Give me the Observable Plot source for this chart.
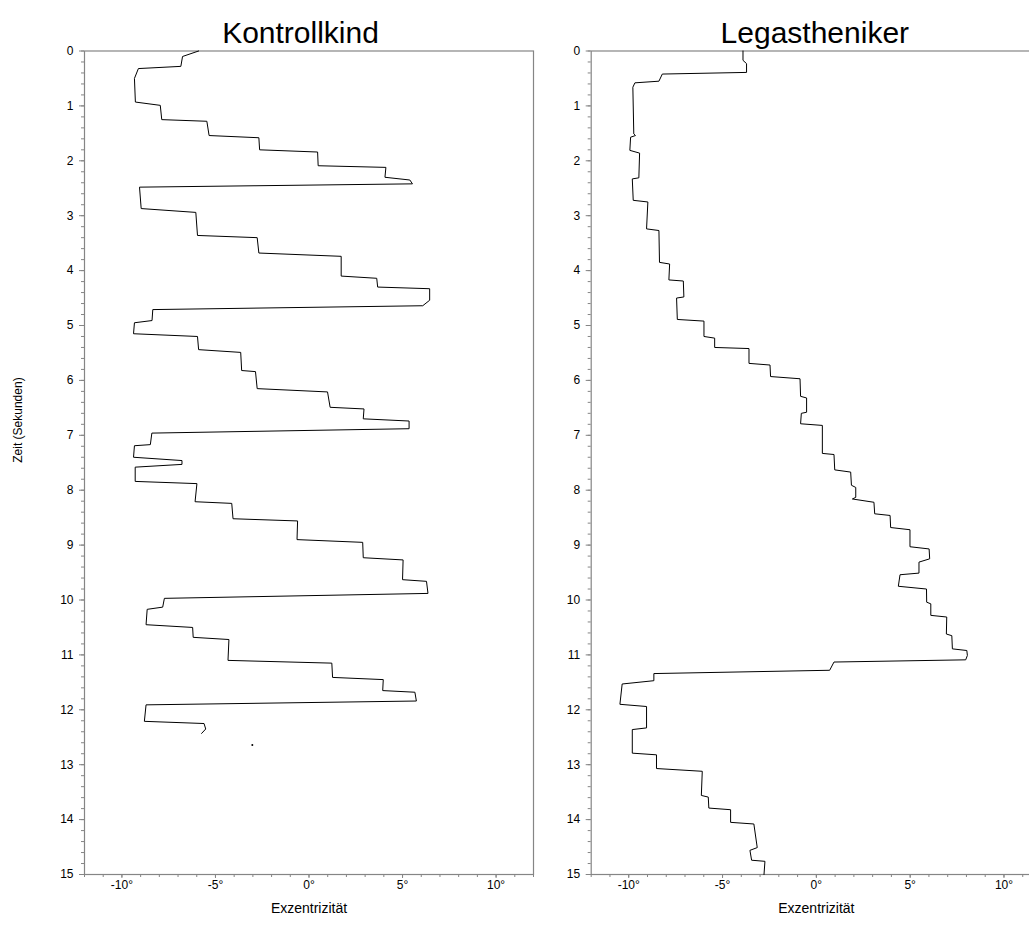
<!DOCTYPE html>
<html>
<head>
<meta charset="utf-8">
<script src="https://cdn.jsdelivr.net/npm/d3@7"></script>
<script src="https://cdn.jsdelivr.net/npm/@observablehq/plot@0.6"></script>
<style>
  html, body { margin: 0; padding: 0; background: #fff; overflow: hidden; }
  #chart { position: relative; width: 1029px; height: 932px; overflow: hidden; }
  #chart > svg { position: absolute; top: 0; }
</style>
</head>
<body>
<div id="chart"></div>
<script>
// Blickverlauf: horizontale Exzentrizität (Grad) über der Zeit (Sekunden)
const panelTitles = ["Kontrollkind", "Legastheniker"];
const xLabel = "Exzentrizität";
const yLabel = "Zeit (Sekunden)";
const xTicks = [-10, -5, 0, 5, 10];
const xMinorTicks = [-12, -11, -10, -9, -8, -7, -6, -5, -4, -3, -2, -1, 0, 1, 2, 3, 4, 5, 6, 7, 8, 9, 10, 11, 12];
const yTicks = [0, 1, 2, 3, 4, 5, 6, 7, 8, 9, 10, 11, 12, 13, 14, 15];

// Kontrollkind
const kontrollT = [0.00, 0.10, 0.28, 0.32, 0.50, 0.93, 0.99, 1.25, 1.28, 1.54, 1.58, 1.80, 1.84, 2.09, 2.12, 2.30, 2.35, 2.42,
  2.48, 2.87, 2.94, 3.36, 3.40, 3.68, 3.74, 4.10, 4.14, 4.30, 4.33, 4.54, 4.64,
  4.71, 4.91, 4.95, 5.15, 5.20, 5.44, 5.49, 5.82, 5.84, 6.15, 6.21, 6.49, 6.52, 6.70, 6.74, 6.88,
  6.96, 7.17, 7.19, 7.40, 7.46, 7.53, 7.58, 7.84, 7.88, 8.21, 8.24, 8.52, 8.56, 8.90, 8.95, 9.23, 9.27, 9.63, 9.66, 9.88,
  9.97, 10.13, 10.17, 10.45, 10.50, 10.68, 10.72, 11.10, 11.15, 11.41, 11.45, 11.65, 11.68, 11.84,
  11.91, 12.21, 12.25, 12.35, 12.43];
const kontrollX = [-5.90, -6.76, -6.85, -9.12, -9.33, -9.28, -7.95, -7.87, -5.46, -5.34, -2.68, -2.64, 0.46, 0.49, 4.11, 4.06, 5.39, 5.53,
  -9.06, -8.97, -6.05, -5.96, -2.77, -2.68, 1.72, 1.72, 3.62, 3.67, 6.45, 6.45, 6.08,
  -8.35, -8.39, -9.33, -9.38, -5.96, -5.90, -3.65, -3.60, -2.86, -2.77, 0.99, 1.13, 2.94, 2.90, 5.35, 5.35,
  -8.40, -8.48, -9.33, -9.38, -6.79, -6.79, -9.29, -9.29, -5.99, -6.09, -4.13, -4.06, -0.61, -0.64, 2.87, 2.90, 5.03, 5.00, 6.28, 6.36,
  -7.73, -7.82, -8.65, -8.71, -6.22, -6.19, -4.28, -4.33, 1.22, 1.26, 3.97, 3.94, 5.66, 5.74,
  -8.71, -8.80, -5.61, -5.52, -5.74];
const kontrollDotT = [12.64];
const kontrollDotX = [-3.03];

// Legastheniker
const legastT = [0.00, 0.17, 0.23, 0.39, 0.42, 0.55, 0.58, 0.66, 1.51, 1.54, 1.57, 1.81, 1.86, 2.31, 2.33, 2.72, 2.75, 3.24,
  3.27, 3.85, 3.88, 4.17, 4.19, 4.48, 4.50, 4.89, 4.92, 5.20, 5.23, 5.40, 5.42, 5.69, 5.72, 5.93, 5.97, 6.29,
  6.32, 6.58, 6.60, 6.79, 6.82, 7.33, 7.35, 7.63, 7.67, 7.91, 7.95, 8.13, 8.16, 8.22, 8.43, 8.46, 8.68, 8.72,
  9.03, 9.07, 9.25, 9.31, 9.51, 9.54, 9.75, 9.80, 10.04, 10.07, 10.28, 10.31, 10.62, 10.65, 10.89, 10.92,
  11.01, 11.09, 11.13, 11.28, 11.34, 11.47, 11.53, 11.90, 11.94, 12.33, 12.36, 12.79, 12.82, 13.07, 13.12,
  13.56, 13.59, 13.79, 13.82, 14.05, 14.08, 14.51, 14.56, 14.74, 14.76, 15.00];
const legastX = [-3.91, -3.91, -3.72, -3.72, -8.21, -8.39, -9.67, -9.78, -9.73, -9.64, -9.90, -9.94, -9.42, -9.46, -9.81, -9.76, -8.98, -9.05,
  -8.39, -8.36, -7.82, -7.86, -7.09, -7.06, -7.45, -7.41, -5.99, -5.99, -5.42, -5.42, -3.59, -3.59, -2.47, -2.44, -0.87, -0.84,
  -0.52, -0.52, -0.80, -0.84, 0.32, 0.32, 0.94, 0.98, 1.83, 1.87, 2.10, 2.10, 1.92, 3.07, 3.11, 3.93, 3.96, 4.99,
  4.99, 6.01, 6.04, 5.47, 5.47, 4.46, 4.37, 5.87, 5.88, 6.10, 6.10, 6.95, 6.93, 7.22, 7.25, 8.02,
  8.05, 7.96, 0.94, 0.71, -8.66, -8.66, -10.35, -10.47, -9.05, -9.05, -9.81, -9.81, -8.52, -8.52, -6.08,
  -6.13, -5.76, -5.73, -4.57, -4.57, -3.33, -3.15, -3.54, -3.45, -2.74, -2.79];

const toRows = (ts, xs) => ts.map((t, i) => ({t, x: xs[i]}));

const axisGray = "#858585";
const font = "'Liberation Sans', Arial, Helvetica, sans-serif";

function panel({title, rows, dots, width, marginLeft, titleDx, withYLabel}) {
  const marks = [
    Plot.frame({stroke: axisGray, strokeWidth: 1.2}),
    // minor and major ticks on the time axis
    Plot.axisY({ticks: d3.range(0, 15.001, 0.2), tickSize: 3, tickFormat: () => "", stroke: axisGray, label: null}),
    Plot.axisY({ticks: yTicks, tickSize: 5, tickPadding: 6, stroke: axisGray, fill: "black", fontSize: 12, label: null}),
    // minor and major ticks on the eccentricity axis
    Plot.axisX({ticks: xMinorTicks, tickSize: 3, tickFormat: () => "", stroke: axisGray, label: null}),
    Plot.axisX({ticks: xTicks, tickSize: 4, tickPadding: 2, tickFormat: d => `${d}°`, stroke: axisGray, fill: "black", fontSize: 12, label: null}),
    Plot.line(rows, {x: "x", y: "t", stroke: "black", strokeWidth: 1}),
    Plot.text([title], {frameAnchor: "top", dy: -29.5, dx: titleDx, fontSize: 30, fill: "black"}),
    Plot.text([xLabel], {frameAnchor: "bottom", dy: 38, fontSize: 14, fill: "black"})
  ];
  if (dots.length) marks.push(Plot.dot(dots, {x: "x", y: "t", r: 1, fill: "black", stroke: null}));
  if (withYLabel) marks.push(Plot.text([yLabel], {frameAnchor: "left", dx: -66, rotate: -90, fontSize: 12, fill: "black"}));
  return Plot.plot({
    width,
    height: 932,
    marginLeft,
    marginRight: 12,
    marginTop: 50.5,
    marginBottom: 58,
    style: {fontFamily: font, fontSize: "12px", background: "white", color: "black", overflow: "visible"},
    x: {domain: [-12, 12], axis: null},
    y: {domain: [0, 15], reverse: true, axis: null},
    marks
  });
}

const left = panel({
  title: panelTitles[0],
  rows: toRows(kontrollT, kontrollX),
  dots: toRows(kontrollDotT, kontrollDotX),
  width: 545, marginLeft: 84, titleDx: -8.5, withYLabel: true
});
left.style.left = "0px";

const right = panel({
  title: panelTitles[1],
  rows: toRows(legastT, legastX),
  dots: [],
  width: 508, marginLeft: 45.7, titleDx: -1.5, withYLabel: false
});
right.style.left = "545px";

const chart = document.getElementById("chart");
chart.append(right, left);
</script>
</body>
</html>
